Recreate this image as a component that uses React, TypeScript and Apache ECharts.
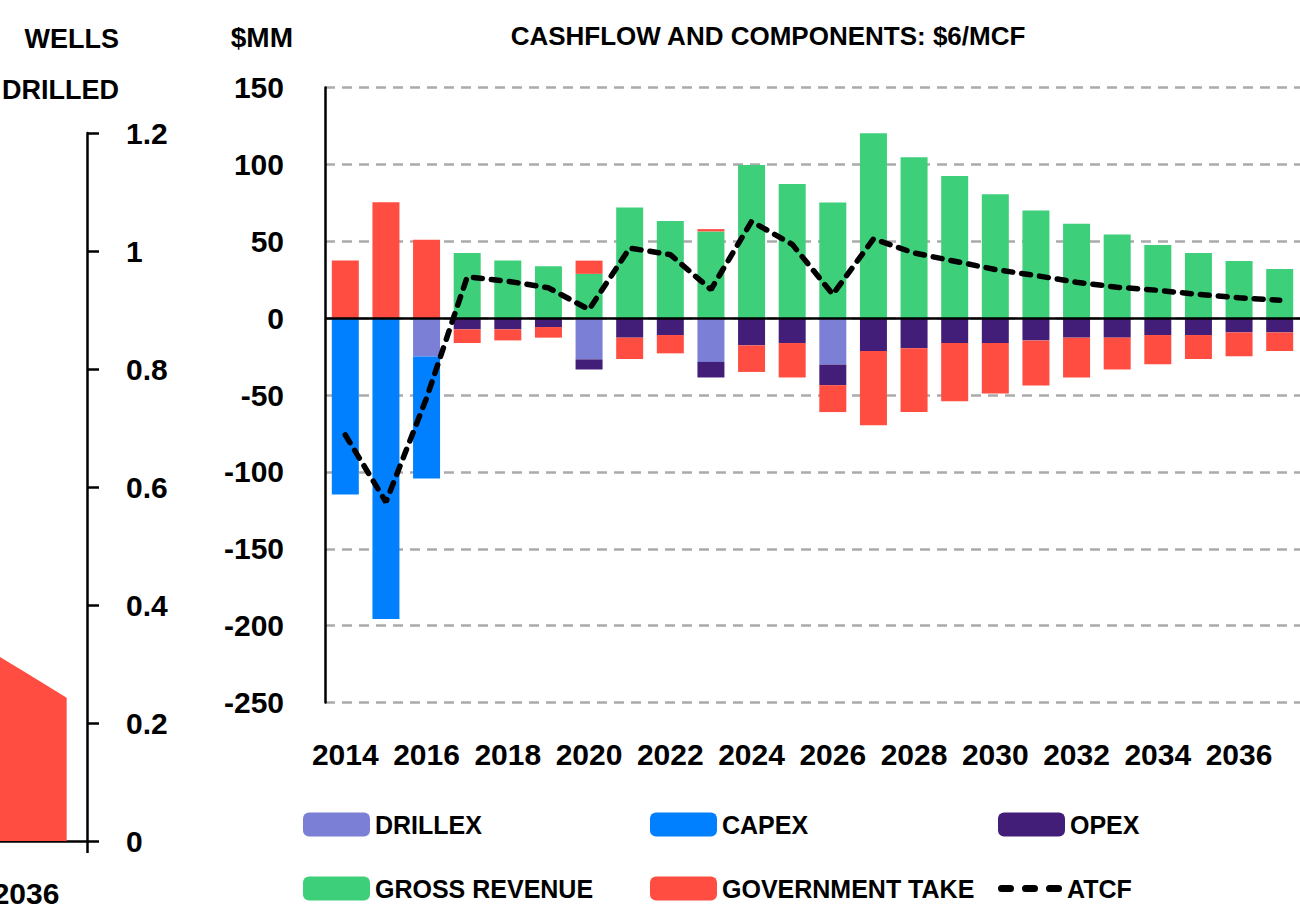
import React, { useEffect, useRef } from "react";
import * as echarts from "echarts";

const FONT = "'Liberation Sans', Arial, sans-serif";
const OFF = 100; // chart canvas extends 100px beyond the left edge of the picture

const years = [
  "2014", "2015", "2016", "2017", "2018", "2019", "2020", "2021", "2022", "2023", "2024", "2025",
  "2026", "2027", "2028", "2029", "2030", "2031", "2032", "2033", "2034", "2035", "2036", "2037",
];
const drillex = [0, 0, -25, 0, 0, 0, -26.8, 0, 0, -28.5, 0, 0, -30.2, 0, 0, 0, 0, 0, 0, 0, 0, 0, 0, 0];
const capex = [-114.7, -195.7, -79.3, 0, 0, 0, 0, 0, 0, 0, 0, 0, 0, 0, 0, 0, 0, 0, 0, 0, 0, 0, 0, 0];
const opex = [0, 0, 0, -7.3, -7.3, -5.8, -6.6, -12.7, -11, -10.1, -17.7, -16.2, -13.4, -21.4, -19.6, -16.2, -16.2, -14.5, -12.7, -12.7, -11, -11, -9.3, -9.3];
const grossRevenue = [0, 0, 0, 42.4, 37.4, 33.7, 28.8, 71.9, 63.1, 56.4, 99.6, 87.3, 75.2, 120.2, 104.6, 92.5, 80.6, 70, 61.4, 54.4, 47.6, 42.4, 37.2, 32];
const governmentTake = [37.4, 75.4, 51, -8.9, -7.2, -6.9, 8.6, -13.9, -11.9, 1.5, -17.3, -22.4, -17.5, -48.3, -41.5, -37.8, -32.8, -29.3, -25.9, -20.7, -19, -15.6, -15.5, -12.1];
const atcf = [-76, -119.6, -52, 26.8, 24, 19.7, 5.6, 45.6, 41.3, 18.6, 62.9, 48, 15.4, 51.5, 42.4, 37, 31.6, 27.7, 23.3, 20.1, 18.1, 15.4, 13.2, 11.7];

// partially visible "wells drilled" chart on the left edge
const wellYears = ["2035", "2036", "2037"];
const wellsDrilled = [0.327, 0.285, 0.243];

const COLORS = {
  drillex: "#7b7fd6",
  capex: "#0080ff",
  opex: "#431e78",
  gross: "#3ecf7a",
  gov: "#ff4d41",
};

const textBase = { fontFamily: FONT, fontWeight: "bold" as const, color: "#000" };

const DASH_ICON =
  "path://M3.5,0H12.5A3.5,3.5,0,0,1,12.5,7H3.5A3.5,3.5,0,0,1,3.5,0Z" +
  "M27.5,0H36.5A3.5,3.5,0,0,1,36.5,7H27.5A3.5,3.5,0,0,1,27.5,0Z" +
  "M51.5,0H60.5A3.5,3.5,0,0,1,60.5,7H51.5A3.5,3.5,0,0,1,51.5,0Z";

export default function App() {
  const ref = useRef<HTMLDivElement>(null);
  useEffect(() => {
    if (!ref.current) return;
    const chart = echarts.init(ref.current, null, { renderer: "svg" });
    const legendItem = (name: string, left: number, top: number, extra: any = {}) => ({
      data: [extra.icon ? { name, icon: extra.icon } : name],
      left: left + OFF,
      top,
      padding: 0,
      itemWidth: extra.itemWidth ?? 67,
      itemHeight: extra.itemHeight ?? 24,
      itemGap: 8,
      selectedMode: false,
      textStyle: { ...textBase, fontSize: 25, padding: [0, 0, 0, 0] },
    });
    const option: any = {
      animation: false,
      backgroundColor: "#fff",
      graphic: [
        {
          type: "text",
          x: 768 + OFF,
          y: 36,
          style: { text: "CASHFLOW AND COMPONENTS: $6/MCF", fontFamily: FONT, fontWeight: "bold", fontSize: 26, fill: "#000", align: "center", verticalAlign: "middle" },
        },
        {
          type: "text",
          x: 293 + OFF,
          y: 37,
          style: { text: "$MM", fontFamily: FONT, fontWeight: "bold", fontSize: 28, fill: "#000", align: "right", verticalAlign: "middle" },
        },
        {
          type: "text",
          x: 119 + OFF,
          y: 39,
          style: { text: "WELLS", fontFamily: FONT, fontWeight: "bold", fontSize: 27, fill: "#000", align: "right", verticalAlign: "middle" },
        },
        {
          type: "text",
          x: 119 + OFF,
          y: 90,
          style: { text: "DRILLED", fontFamily: FONT, fontWeight: "bold", fontSize: 27, fill: "#000", align: "right", verticalAlign: "middle" },
        },
      ],
      legend: [
        legendItem("DRILLEX", 303, 812),
        legendItem("CAPEX", 650, 812),
        legendItem("OPEX", 998, 812),
        legendItem("GROSS REVENUE", 303, 876),
        legendItem("GOVERNMENT TAKE", 650, 876),
        legendItem("ATCF", 998, 876, { icon: DASH_ICON, itemWidth: 64, itemHeight: 7 }),
      ],
      grid: [
        { left: 325 + OFF, right: 0, top: 87.5, bottom: 205.5, containLabel: false },
        { left: OFF - 35, right: 1300 - 87, top: 133, bottom: 58, containLabel: false },
      ],
      xAxis: [
        {
          type: "category",
          gridIndex: 0,
          data: years,
          axisLine: { show: false, onZero: false },
          axisTick: { show: false },
          axisLabel: { ...textBase, fontSize: 30, interval: (i: number) => i % 2 === 0, margin: 37 },
        },
        {
          type: "category",
          gridIndex: 1,
          data: wellYears,
          axisLine: { show: true, onZero: false, lineStyle: { color: "#000", width: 2.5 } },
          axisTick: { show: true, length: 12, lineStyle: { color: "#000", width: 2.5 } },
          axisLabel: { ...textBase, fontSize: 30, margin: 37, interval: (i: number, v: string) => v === "2036" },
        },
      ],
      yAxis: [
        {
          type: "value",
          gridIndex: 0,
          min: -250,
          max: 150,
          interval: 50,
          axisLine: { show: true, lineStyle: { color: "#000", width: 2.5 } },
          axisTick: { show: false },
          axisLabel: { ...textBase, fontSize: 30, margin: 41 },
          splitLine: { show: true, lineStyle: { color: "#aaaaaa", width: 2.5, type: [10, 7] } },
        },
        {
          type: "value",
          gridIndex: 1,
          position: "right",
          min: 0,
          max: 1.2,
          interval: 0.2,
          axisLine: { show: true, lineStyle: { color: "#000", width: 2.5 } },
          axisTick: { show: true, length: 12, lineStyle: { color: "#000", width: 2.5 } },
          axisLabel: { ...textBase, fontSize: 30, margin: 39, align: "left" },
          splitLine: { show: false },
        },
      ],
      series: [
        {
          name: "DRILLEX",
          type: "bar",
          stack: "cf",
          barWidth: 27,
          data: drillex,
          itemStyle: { color: COLORS.drillex },
          markLine: {
            silent: true,
            symbol: ["none", "none"],
            label: { show: false },
            lineStyle: { color: "#000", width: 2.5, type: "solid" },
            data: [{ yAxis: 0 }],
            z: 20,
          },
        },
        { name: "CAPEX", type: "bar", stack: "cf", barWidth: 27, data: capex, itemStyle: { color: COLORS.capex } },
        { name: "OPEX", type: "bar", stack: "cf", barWidth: 27, data: opex, itemStyle: { color: COLORS.opex } },
        { name: "GROSS REVENUE", type: "bar", stack: "cf", barWidth: 27, data: grossRevenue, itemStyle: { color: COLORS.gross } },
        { name: "GOVERNMENT TAKE", type: "bar", stack: "cf", barWidth: 27, data: governmentTake, itemStyle: { color: COLORS.gov } },
        {
          name: "ATCF",
          type: "line",
          data: atcf,
          symbol: "none",
          z: 30,
          itemStyle: { color: "#000" },
          lineStyle: { color: "#000", width: 5.5, type: [9, 9], cap: "round" },
        },
        {
          name: "Wells drilled",
          type: "line",
          xAxisIndex: 1,
          yAxisIndex: 1,
          data: wellsDrilled,
          symbol: "none",
          lineStyle: { width: 0 },
          itemStyle: { color: COLORS.gov },
          areaStyle: { color: COLORS.gov, opacity: 1 },
        },
      ],
    };
    chart.setOption(option);
    return () => chart.dispose();
  }, []);
  return (
    <div style={{ position: "fixed", left: 0, top: 0, width: 1300, height: 908, overflow: "hidden", background: "#fff" }}>
      <div ref={ref} style={{ position: "absolute", left: -OFF, top: 0, width: 1300 + OFF, height: 908 }} />
    </div>
  );
}
